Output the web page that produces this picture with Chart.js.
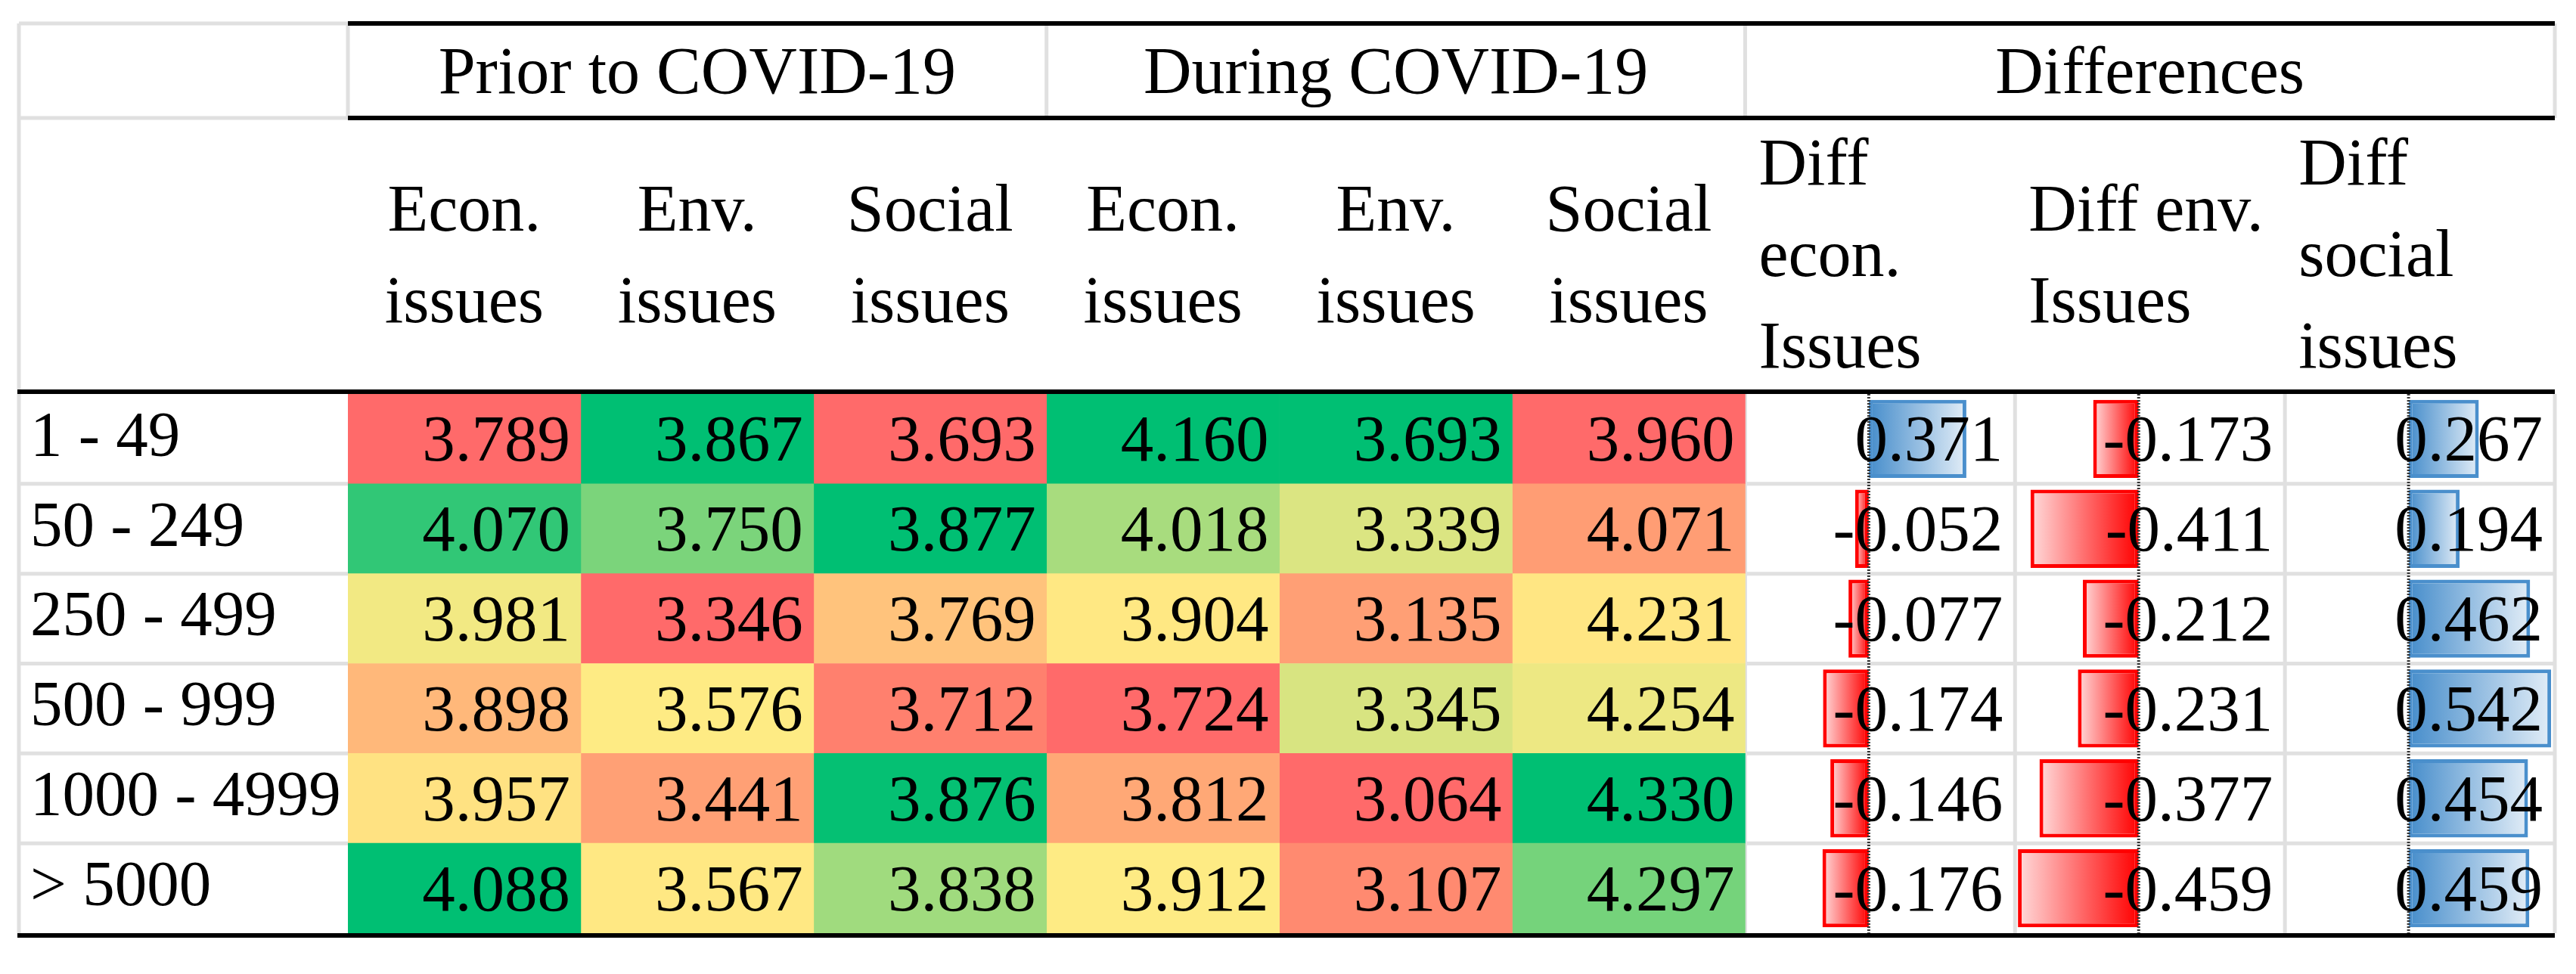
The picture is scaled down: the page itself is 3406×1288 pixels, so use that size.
<!DOCTYPE html>
<html>
<head>
<meta charset="utf-8">
<title>Issues by company size - prior to and during COVID-19</title>
<script src="https://cdn.jsdelivr.net/npm/chart.js@4.4.1/dist/chart.umd.min.js"></script>
<style>
  html, body { margin: 0; padding: 0; background: #ffffff; }
  #wrap { width: 3406px; height: 1288px; }
  #fontprobe { position: absolute; left: -9999px; top: 0; font-family: 'Liberation Serif', 'DejaVu Serif', serif; font-size: 84px; }
</style>
</head>
<body>
<div id="wrap"><canvas id="tabelaChart" width="3406" height="1288"></canvas></div>
<span id="fontprobe">Prior 0123456789</span>
<script>
// --- dados ---
const ROWS = ['1 - 49', '50 - 249', '250 - 499', '500 - 999', '1000 - 4999', '> 5000'];

const PRIOR_ECON   = [3.789, 4.070, 3.981, 3.898, 3.957, 4.088];
const PRIOR_ENV    = [3.867, 3.750, 3.346, 3.576, 3.441, 3.567];
const PRIOR_SOCIAL = [3.693, 3.877, 3.769, 3.712, 3.876, 3.838];

const DURING_ECON   = [4.160, 4.018, 3.904, 3.724, 3.812, 3.912];
const DURING_ENV    = [3.693, 3.339, 3.135, 3.345, 3.064, 3.107];
const DURING_SOCIAL = [3.960, 4.071, 4.231, 4.254, 4.330, 4.297];

const DIFF_ECON   = [0.371, -0.052, -0.077, -0.174, -0.146, -0.176];
const DIFF_ENV    = [-0.173, -0.411, -0.212, -0.231, -0.377, -0.459];
const DIFF_SOCIAL = [0.267, 0.194, 0.462, 0.542, 0.454, 0.459];

const GROUPS = ['Prior to COVID-19', 'During COVID-19', 'Differences'];
const HEADERS = [
    ['Econ.', 'issues'], ['Env.', 'issues'], ['Social', 'issues'],
    ['Econ.', 'issues'], ['Env.', 'issues'], ['Social', 'issues'],
    ['Diff', 'econ.', 'Issues'], ['Diff env.', 'Issues'], ['Diff', 'social', 'issues']
];

// --- layout / estilo ---
const FONT = '"Liberation Serif", "DejaVu Serif", serif';
const HEAT_COLS = [PRIOR_ECON, PRIOR_ENV, PRIOR_SOCIAL, DURING_ECON, DURING_ENV, DURING_SOCIAL];
const DIFF_COLS = [DIFF_ECON, DIFF_ENV, DIFF_SOCIAL];
const COL_UNITS = [1, 1, 1, 1, 1, 1, 1.159, 1.159, 1.159];
const EDGES = [0];
COL_UNITS.forEach(w => EDGES.push(EDGES[EDGES.length - 1] + w));
const TOTAL = EDGES[EDGES.length - 1];
const BAR_MIN = -0.47, BAR_MAX = 0.556;   // faixa das barras de dados em cada coluna

const RED = [255, 106, 106], YELLOW = [255, 235, 132], GREEN = [0, 191, 115];
const GRID = '#e0e0e0';

function lerp(a, b, t) { return a.map((v, i) => Math.round(v + (b[i] - v) * t)); }

// escala de 3 cores por coluna: min vermelho, mediana amarelo, max verde
function heatColors(vals) {
    const s = [...vals].sort((a, b) => a - b);
    const lo = s[0], hi = s[s.length - 1];
    const n = s.length;
    const mid = n % 2 ? s[(n - 1) / 2] : (s[n / 2 - 1] + s[n / 2]) / 2;
    return vals.map(v => {
        const c = v <= mid ? lerp(RED, YELLOW, (v - lo) / (mid - lo))
                           : lerp(YELLOW, GREEN, Math.pow((v - mid) / (hi - mid), 1.3));
        return `rgb(${c.join(',')})`;
    });
}

// escala linear escondida que coloca BAR_MIN..BAR_MAX dentro da coluna col
function diffScale(col) {
    const e0 = EDGES[col], e1 = EDGES[col + 1];
    const perUnit = (BAR_MAX - BAR_MIN) / (e1 - e0);
    const min = BAR_MIN - e0 * perUnit;
    return { type: 'linear', display: false, min: min, max: min + TOTAL * perUnit };
}

function barFill(ctx) {
    const v = ctx.raw;
    if (typeof v !== 'number') return '#ff0000';
    const chart = ctx.chart;
    const sc = chart.scales[ctx.dataset.xAxisID];
    if (!sc) return v < 0 ? '#ff0000' : '#5094ce';
    const x0 = sc.getPixelForValue(0), x1 = sc.getPixelForValue(v);
    if (!isFinite(x0) || !isFinite(x1) || x0 === x1) return v < 0 ? '#ff0000' : '#5094ce';
    const g = chart.ctx.createLinearGradient(x0, 0, x1, 0);
    if (v < 0) {
        g.addColorStop(0, '#ff0000');
        g.addColorStop(1, '#ffdcdc');
    } else {
        g.addColorStop(0, '#468dcb');
        g.addColorStop(1, '#e2edf7');
    }
    return g;
}

const datasets = [];
HEAT_COLS.forEach((vals, c) => {
    datasets.push({
        label: 'heat' + c,
        values: vals,
        data: vals.map(() => [EDGES[c], EDGES[c + 1]]),
        backgroundColor: heatColors(vals),
        borderWidth: 0,
        xAxisID: 'x',
        grouped: false,
        barPercentage: 1,
        categoryPercentage: 1
    });
});
DIFF_COLS.forEach((vals, k) => {
    datasets.push({
        label: 'diff' + k,
        values: vals,
        data: vals,
        backgroundColor: barFill,
        borderColor: vals.map(v => v < 0 ? '#ff0000' : '#4a8fcc'),
        borderWidth: 5,
        borderSkipped: false,
        xAxisID: 'd' + k,
        grouped: false,
        barPercentage: 0.87,
        categoryPercentage: 1
    });
});

// linhas horizontais do cabeçalho (centros)
const HEAD_TOP = 31, HEAD_MID = 156, HEAD_BOTTOM = 518;
const TABLE_LEFT = 25;

const tablePlugin = {
    id: 'tabela',
    beforeDatasetsDraw(chart) {
        const ctx = chart.ctx, area = chart.chartArea, xs = chart.scales.x;
        const px = u => xs.getPixelForValue(u);
        const band = (area.bottom - area.top) / ROWS.length;
        ctx.save();
        ctx.strokeStyle = GRID;
        ctx.lineWidth = 5;
        ctx.beginPath();
        // célula vazia no canto e borda esquerda
        ctx.moveTo(TABLE_LEFT, HEAD_TOP); ctx.lineTo(area.left, HEAD_TOP);
        ctx.moveTo(TABLE_LEFT, HEAD_MID); ctx.lineTo(area.left, HEAD_MID);
        ctx.moveTo(TABLE_LEFT, HEAD_TOP); ctx.lineTo(TABLE_LEFT, area.bottom);
        // divisões dos grupos
        [0, 3, 6, 9].forEach(e => {
            ctx.moveTo(px(EDGES[e]), HEAD_TOP); ctx.lineTo(px(EDGES[e]), HEAD_MID);
        });
        // linhas entre as faixas (coluna de rótulos e colunas de diferenças)
        for (let i = 1; i < ROWS.length; i++) {
            const y = area.top + i * band;
            ctx.moveTo(TABLE_LEFT, y); ctx.lineTo(area.left, y);
            ctx.moveTo(px(EDGES[6]), y); ctx.lineTo(area.right, y);
        }
        [6, 7, 8, 9].forEach(e => {
            ctx.moveTo(px(EDGES[e]), area.top); ctx.lineTo(px(EDGES[e]), area.bottom);
        });
        ctx.stroke();
        ctx.restore();
    },
    afterDatasetsDraw(chart) {
        const ctx = chart.ctx, area = chart.chartArea, xs = chart.scales.x;
        const px = u => xs.getPixelForValue(u);
        ctx.save();

        // eixo pontilhado das barras
        ctx.strokeStyle = '#333';
        ctx.lineWidth = 4;
        ctx.setLineDash([2, 2]);
        ['d0', 'd1', 'd2'].forEach(id => {
            const x = chart.scales[id].getPixelForValue(0);
            ctx.beginPath();
            ctx.moveTo(x, area.top); ctx.lineTo(x, area.bottom);
            ctx.stroke();
        });
        ctx.setLineDash([]);

        // valores nas células
        ctx.fillStyle = '#000';
        ctx.font = `87px ${FONT}`;
        ctx.textAlign = 'right';
        ctx.textBaseline = 'alphabetic';
        chart.data.datasets.forEach((ds, d) => {
            const meta = chart.getDatasetMeta(d);
            const right = px(EDGES[d + 1]) - (d < 6 ? 14 : 16);
            meta.data.forEach((el, i) => {
                ctx.fillText(ds.values[i].toFixed(3), right, el.y + 29);
            });
        });

        // cabeçalhos de grupo
        ctx.font = `88px ${FONT}`;
        ctx.textAlign = 'center';
        const gy = (HEAD_TOP + HEAD_MID) / 2 + 29;
        GROUPS.forEach((g, k) => {
            ctx.fillText(g, (px(EDGES[k * 3]) + px(EDGES[k * 3 + 3])) / 2, gy);
        });

        // cabeçalhos de coluna
        const mid = 365, lineH = 121;
        HEADERS.forEach((lines, c) => {
            const left = px(EDGES[c]), right = px(EDGES[c + 1]);
            const diff = c >= 6;
            ctx.textAlign = diff ? 'left' : 'center';
            const x = diff ? left + 18 : (left + right) / 2;
            lines.forEach((t, i) => {
                ctx.fillText(t, x, mid + (i - (lines.length - 1) / 2) * lineH);
            });
        });

        // linhas pretas
        ctx.strokeStyle = '#000';
        ctx.lineWidth = 6;
        ctx.beginPath();
        ctx.moveTo(area.left, HEAD_TOP); ctx.lineTo(area.right, HEAD_TOP);
        ctx.moveTo(area.left, HEAD_MID); ctx.lineTo(area.right, HEAD_MID);
        ctx.moveTo(TABLE_LEFT - 2, HEAD_BOTTOM); ctx.lineTo(area.right, HEAD_BOTTOM);
        ctx.moveTo(TABLE_LEFT - 2, area.bottom + 3); ctx.lineTo(area.right, area.bottom + 3);
        ctx.stroke();
        ctx.restore();
    }
};

function drawTable() {
    Chart.defaults.color = '#000';
    Chart.defaults.font.family = FONT;

    new Chart(document.getElementById('tabelaChart').getContext('2d'), {
        type: 'bar',
        data: { labels: ROWS, datasets: datasets },
        options: {
            indexAxis: 'y',
            responsive: false,
            animation: false,
            devicePixelRatio: 1,
            layout: { padding: { top: 521, bottom: 23, left: 40, right: 28 } },
            plugins: { legend: { display: false }, tooltip: { enabled: false } },
            scales: {
                y: {
                    type: 'category',
                    offset: true,
                    grid: { display: false },
                    border: { display: false },
                    ticks: {
                        autoSkip: false,
                        crossAlign: 'far',
                        color: '#000',
                        font: { size: 85, family: FONT }
                    },
                    afterFit(scale) { scale.width = 420; }
                },
                x: { type: 'linear', display: false, min: 0, max: TOTAL },
                d0: diffScale(6),
                d1: diffScale(7),
                d2: diffScale(8)
            }
        },
        plugins: [tablePlugin]
    });
}

// garante que a fonte serifada esteja pronta antes de desenhar no canvas
if (document.fonts && document.fonts.load) {
    Promise.all([
        document.fonts.load('84px "Liberation Serif"'),
        document.fonts.load('84px "DejaVu Serif"')
    ]).catch(() => null).then(() => drawTable());
} else {
    drawTable();
}
</script>
</body>
</html>
